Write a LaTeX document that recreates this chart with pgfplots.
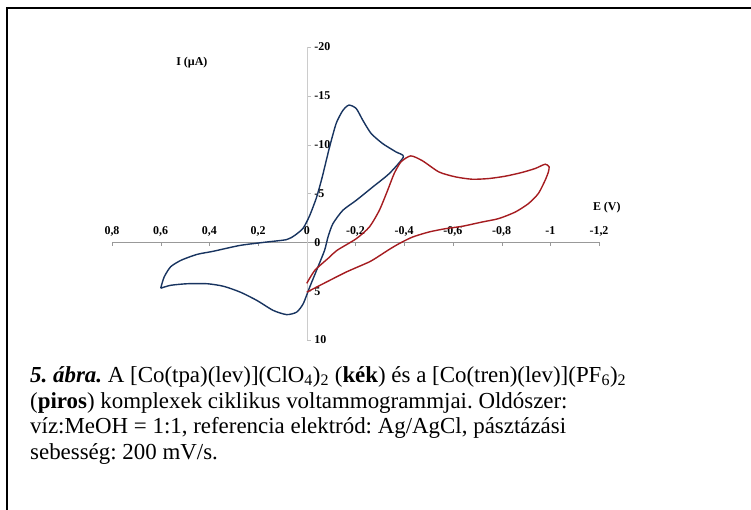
\documentclass[border=0pt]{standalone}
\usepackage{fontspec}
\setmainfont{Liberation Serif}
\usepackage{pgfplots}
\pgfplotsset{compat=1.18}

\definecolor{cvblue}{RGB}{24,52,96}
\definecolor{cvred}{RGB}{165,28,32}

\begin{document}
\frenchspacing
\begin{tikzpicture}[x=1bp,y=1bp]
\useasboundingbox (0,0) rectangle (751,510);
\fill[white] (0,0) rectangle (751,510);
% frame (right and bottom side cut off)
\draw[line width=2bp] (7,-5) -- (7,502) -- (760,502);

\begin{axis}[
    scale only axis,
    width=487bp, height=293bp,
    at={(112bp,170bp)}, anchor=south west,
    axis lines=middle,
    x dir=reverse, y dir=reverse,
    xmin=-1.2, xmax=0.8, ymin=-20, ymax=10,
    enlargelimits=false,
    clip=false,
    hide obscured x ticks=false,
    hide obscured y ticks=false,
    x axis line style={-, gray!80},
    y axis line style={-, gray!40},
    major tick length=4bp,
    xtick={0.8,0.6,0.4,0.2,0,-0.2,-0.4,-0.6,-0.8,-1,-1.2},
    xticklabels={{0,8},{0,6},{0,4},{0,2},0,{-0,2},{-0,4},{-0,6},{-0,8},-1,{-1,2}},
    ytick={-20,-15,-10,-5,0,5,10},
    yticklabels={-20,-15,-10,-5,0,5,10},
    xtick style={gray!80, yshift=-2bp},
    ytick style={gray!50, xshift=2bp},
    ticklabel style={font=\fontsize{12}{13}\selectfont\bfseries},
    xticklabel style={anchor=base, yshift=9.5bp},
    yticklabel style={anchor=west, xshift=6bp},
]
% [Co(tpa)(lev)](ClO4)2 -- blue
\addplot[cvblue, line width=1.4bp, smooth, tension=0.4] coordinates {
    (0.600,4.7) (0.586,3.56) (0.559,2.5) (0.515,1.82) (0.450,1.23)
    (0.385,0.92) (0.273,0.31) (0.165,-0.03) (0.083,-0.28) (0.050,-0.70)
    (0.015,-1.45) (-0.012,-2.75) (-0.040,-4.6) (-0.060,-6.36) (-0.067,-7.05)
    (-0.094,-9.8) (-0.121,-12.2) (-0.148,-13.5) (-0.173,-14.05) (-0.203,-13.7)
    (-0.230,-12.5) (-0.264,-11.15) (-0.312,-10.1) (-0.366,-9.26) (-0.397,-8.75)
    (-0.339,-7.05) (-0.271,-5.67) (-0.203,-4.3) (-0.148,-3.28) (-0.107,-1.9)
    (-0.087,-0.54) (-0.073,0.82) (-0.040,2.87) (-0.012,4.58) (0.015,6.3)
    (0.042,7.15) (0.083,7.4) (0.138,6.97) (0.205,5.95) (0.273,5.1)
    (0.342,4.5) (0.409,4.24) (0.491,4.24) (0.559,4.4) (0.600,4.7)
};
% [Co(tren)(lev)](PF6)2 -- red
\addplot[cvred, line width=1.4bp, smooth, tension=0.4] coordinates {
    (0.000,4.2) (-0.033,2.87) (-0.094,1.5) (-0.124,0.82) (-0.203,-0.37)
    (-0.257,-1.57) (-0.298,-3.28) (-0.332,-5.33) (-0.359,-7.05) (-0.387,-8.24)
    (-0.427,-8.85) (-0.475,-8.35) (-0.543,-7.2) (-0.611,-6.7) (-0.679,-6.46)
    (-0.747,-6.53) (-0.815,-6.77) (-0.883,-7.15) (-0.938,-7.56) (-0.979,-8.0)
    (-0.995,-7.73) (-0.992,-7.2) (-0.979,-6.36) (-0.951,-5.0) (-0.910,-3.96)
    (-0.856,-3.1) (-0.788,-2.43) (-0.720,-2.08) (-0.638,-1.64) (-0.570,-1.4)
    (-0.502,-1.06) (-0.434,-0.54) (-0.380,0.12) (-0.339,0.72) (-0.300,1.35)
    (-0.257,2.0) (-0.162,3.04) (-0.067,4.24) (0.000,5.1)
};
\node[font=\fontsize{12}{13}\selectfont\bfseries] at (axis cs:0.472,-18.4) {I (µA)};
\node[font=\fontsize{12}{13}\selectfont\bfseries] at (axis cs:-1.232,-3.6) {E (V)};
\end{axis}

\node[anchor=north west, align=left, inner sep=0pt,
      font=\fontsize{23}{26}\selectfont] at (30,144) {%
\textbf{\textit{5. ábra.}} A [Co(tpa)(lev)](ClO\textsubscript{4})\textsubscript{2} (\textbf{kék}) és a [Co(tren)(lev)](PF\textsubscript{6})\textsubscript{2}\\
(\textbf{piros}) komplexek ciklikus voltammogrammjai. Oldószer:\\
víz:MeOH = 1:1, referencia elektród: Ag/AgCl, pásztázási\\
sebesség: 200 mV/s.};
\end{tikzpicture}
\end{document}
